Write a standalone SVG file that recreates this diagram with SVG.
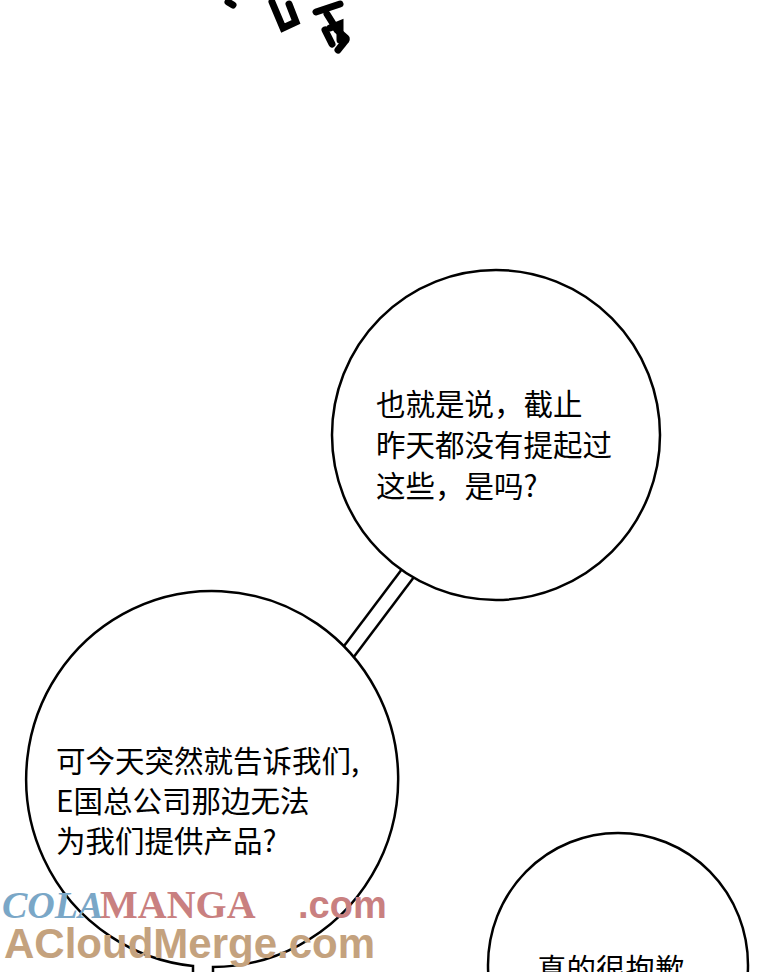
<svg xmlns="http://www.w3.org/2000/svg" width="760" height="972" viewBox="0 0 760 972">
<style>
.b{fill:#fff;stroke:#000;stroke-width:2.5}
.t{font-family:"Noto Sans CJK SC","Noto Sans",sans-serif;font-size:29.5px;fill:#000}
.br{fill:none;stroke:#000;stroke-width:7;stroke-linecap:round}
</style>
<rect width="760" height="972" fill="#fff"/>
<g id="sfx">
<path class="br" d="M228 2 L233 5"/>
<path class="br" d="M272 2 L283 28 L296 22 L289 4"/>
<path class="br" d="M316 12 L340 4"/>
<path class="br" d="M327 14 L337 30 L346 38"/>
<path class="br" d="M325 30 L332 44"/>
<path class="br" d="M330 28 L340 24 L340 40"/>
<path class="br" d="M346 40 L338 50"/>
</g>
<g id="connectors">
<polygon points="338,654 402,569 414,577 350,662" fill="#fff" stroke="none"/>
<line x1="338" y1="654" x2="402" y2="569" stroke="#000" stroke-width="2.5"/>
<line x1="350" y1="662" x2="414" y2="577" stroke="#000" stroke-width="2.5"/>
</g>
<g id="bubble1">
<ellipse class="b" cx="496" cy="435" rx="164" ry="165"/>
<text class="t" x="376" y="415">也就是说，截止</text>
<text class="t" x="376" y="456">昨天都没有提起过</text>
<text class="t" x="376" y="497">这些，是吗?</text>
</g>
<g id="bubble2">
<path class="b" d="M193 972 L193 966 A186 188 0 1 1 213 967 L213 972"/>
<text class="t" x="56" y="772">可今天突然就告诉我们,</text>
<text class="t" x="56" y="812">E国总公司那边无法</text>
<text class="t" x="56" y="852">为我们提供产品?</text>
</g>
<g id="bubble3">
<ellipse class="b" cx="618" cy="965" rx="130" ry="132"/>
<text class="t" x="537" y="980">真的很抱歉</text>
</g>
<g id="watermark" font-weight="bold">
<text x="2" y="918" font-family="Liberation Serif,serif" font-style="italic" font-size="38" fill="#7aa7c7">COLA</text>
<text x="100" y="918" font-family="Liberation Serif,serif" font-size="40" fill="#c98080">MANGA</text>
<text x="298" y="918" font-family="Liberation Sans,sans-serif" font-size="38" fill="#c98080">.com</text>
<text x="4" y="958" font-family="Liberation Sans,sans-serif" font-size="42" fill="#c4a27e">ACloudMerge.com</text>
</g>
</svg>
